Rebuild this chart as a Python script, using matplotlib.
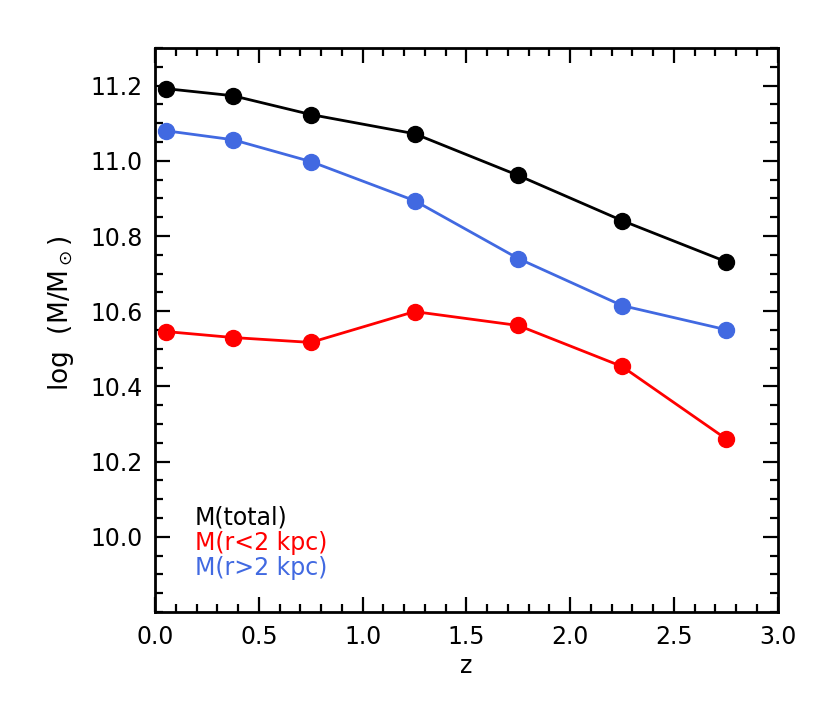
import matplotlib
matplotlib.use("Agg")
import matplotlib.pyplot as plt
from matplotlib.ticker import MultipleLocator

z = [0.05, 0.375, 0.75, 1.25, 1.75, 2.25, 2.75]
m_total = [11.192, 11.173, 11.123, 11.072, 10.961, 10.841, 10.732]
m_inner = [10.546, 10.530, 10.517, 10.599, 10.562, 10.453, 10.261]
m_outer = [11.080, 11.056, 10.998, 10.894, 10.740, 10.615, 10.551]

labels = ["M(total)", "M(r<2 kpc)", "M(r>2 kpc)"]
colors = ["black", "red", "#4169E1"]

plt.rcParams['font.family'] = ['DejaVu Sans']
plt.rcParams['mathtext.fontset'] = 'dejavusans'

fig = plt.figure(figsize=(8.3, 7.12), dpi=100)
ax = fig.add_axes([0.187, 0.1404, 0.750, 0.7922])

for y, c in zip([m_total, m_outer, m_inner], [colors[0], colors[2], colors[1]]):
    ax.plot(z, y, color=c, lw=2.0, marker='o', ms=11.5, mec=c, mfc=c)

ax.set_xlim(0, 3.0)
ax.set_ylim(9.8, 11.3)
ax.xaxis.set_major_locator(MultipleLocator(0.5))
ax.xaxis.set_minor_locator(MultipleLocator(0.1))
ax.yaxis.set_minor_locator(MultipleLocator(0.05))
ax.set_yticks([10.0, 10.2, 10.4, 10.6, 10.8, 11.0, 11.2])
ax.tick_params(which='both', direction='in', top=True, right=True, width=1.6)
ax.tick_params(which='major', length=11, labelsize=17, pad=9)
ax.tick_params(which='minor', length=5.5)
for s in ax.spines.values():
    s.set_linewidth(2.0)

ax.set_xlabel('z', fontsize=17, labelpad=4)
ax.set_ylabel(r'log  (M/M$_\odot$)', fontsize=19, va='center')
ax.yaxis.set_label_coords(-0.152, 0.53)

for i, (t, c) in enumerate(zip(labels, colors)):
    ax.text(0.064, 0.167 - i * 0.0445, t, color=c, fontsize=17,
            transform=ax.transAxes, va='center', ha='left')

fig.savefig('out.png', dpi=100)
